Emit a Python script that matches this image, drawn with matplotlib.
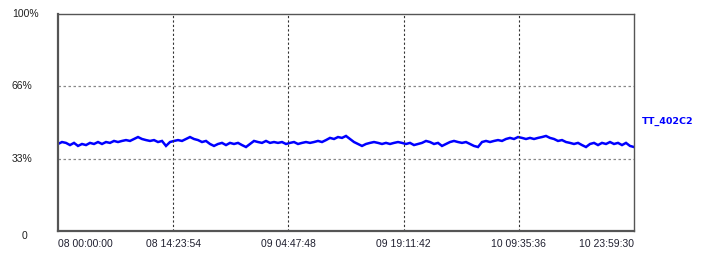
import numpy as np
import matplotlib
matplotlib.use('Agg')
import matplotlib.pyplot as plt

plt.rcParams['font.family'] = ['Liberation Sans', 'DejaVu Sans']

# series values (%), read every ~4 px across the plot
series_name = 'TT_402C2'
values = [40.1, 41.0, 40.6, 39.6, 40.6, 39.2, 40.1, 39.6, 40.6, 40.1,
          41.0, 40.1, 41.0, 40.6, 41.5, 41.0, 41.5, 41.9, 41.5, 42.4,
          43.3, 42.4, 41.9, 41.5, 41.9, 41.0, 41.5, 39.2, 41.0, 41.5,
          41.9, 41.5, 42.4, 43.3, 42.4, 41.9, 41.0, 41.5, 40.1, 39.2,
          40.1, 40.6, 39.6, 40.6, 40.1, 40.6, 39.6, 38.7, 40.1, 41.5,
          41.0, 40.6, 41.5, 40.6, 41.0, 40.6, 41.0, 40.1, 40.6, 41.0,
          40.1, 40.6, 41.0, 40.6, 41.0, 41.5, 41.0, 41.9, 42.9, 42.4,
          43.3, 42.9, 43.8, 42.4, 41.0, 40.1, 39.2, 40.1, 40.6, 41.0,
          40.6, 40.1, 40.6, 40.1, 40.6, 41.0, 40.6, 40.1, 40.6, 39.6,
          40.1, 40.6, 41.5, 41.0, 40.1, 40.6, 39.2, 40.1, 41.0, 41.5,
          41.0, 40.6, 41.0, 40.1, 39.2, 38.7, 41.0, 41.5, 41.0, 41.5,
          41.9, 41.5, 42.4, 42.9, 42.4, 43.3, 42.9, 42.4, 42.9, 42.4,
          42.9, 43.3, 43.8, 42.9, 42.4, 41.5, 41.9, 41.0, 40.6, 40.1,
          40.6, 39.6, 38.7, 40.1, 40.6, 39.6, 40.6, 40.1, 41.0, 40.1,
          40.6, 39.6, 40.6, 39.2, 38.7]

x_ticklabels = ['08 00:00:00', '08 14:23:54', '09 04:47:48',
                '09 19:11:42', '10 09:35:36', '10 23:59:30']
y_ticks = [0, 33.33, 66.67, 100]
y_ticklabels = ['0', '33%', '66%', '100%']

t_end = 259170  # seconds, 71:59:30
t = np.linspace(0, t_end, len(values))
x_ticks = np.linspace(0, t_end, len(x_ticklabels))

fig = plt.figure(figsize=(7.13, 2.69), dpi=100)
ax = fig.add_axes([58/713, 38/269, 576/713, 217/269])

ax.plot(t, values, color='#0000ff', linewidth=1.8, solid_joinstyle='miter')

ax.set_xlim(0, t_end)
ax.set_ylim(0, 100)

# grid: dark dashed verticals, lighter dotted horizontals
for xv in x_ticks[1:-1]:
    ax.axvline(xv, color='#333333', linestyle=(0, (2, 2)), linewidth=0.8)
for yv in y_ticks[1:3]:
    ax.axhline(yv, color='#888888', linestyle=(0, (2, 2)), linewidth=0.9)

ax.set_xticks([])
ax.set_yticks([])
for side in ['left', 'bottom']:
    ax.spines[side].set_color('#555555')
    ax.spines[side].set_linewidth(1.6)
for side in ['top', 'right']:
    ax.spines[side].set_color('#555555')
    ax.spines[side].set_linewidth(1.0)

# x labels under the axis
for i, (xv, lab) in enumerate(zip(x_ticks, x_ticklabels)):
    ha = 'left' if i == 0 else ('right' if i == len(x_ticks) - 1 else 'center')
    ax.text(xv, -3.5, lab, ha=ha, va='top', fontsize=7.5, color='#202030',
            clip_on=False)

# y labels on the left
for yv, lab in zip(y_ticks, y_ticklabels):
    if lab == '0':
        fig.text(25/713, 1 - 236/269, lab, ha='center', va='center',
                 fontsize=7.5, color='#202020')
    else:
        fig.text(12/713, (38 + yv * 2.17) / 269, lab, ha='left', va='center',
                 fontsize=7.5, color='#202020')

fig.text(642/713, 1 - 121/269, series_name, ha='left', va='center',
         fontsize=6.8, fontweight='bold', color='#0000ff', family='DejaVu Sans')

fig.savefig('out.png', dpi=100)
